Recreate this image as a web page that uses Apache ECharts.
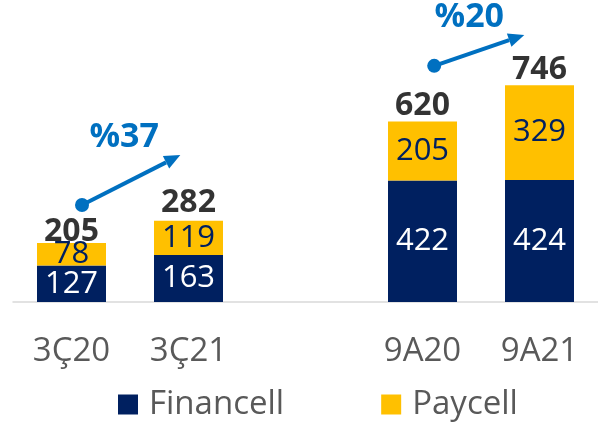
<!DOCTYPE html>
<html lang="tr">

<head>
    <meta charset="UTF-8">
    <script src="https://cdn.jsdelivr.net/npm/echarts@6/dist/echarts.min.js"></script>
    <title>Financell / Paycell</title>
    <style>
        html, body { margin: 0; padding: 0; background: #fff; }
        #myChart { width: 598px; height: 423px; }
    </style>
</head>

<body>
    <div id="myChart"></div>
    <script>
        // values (empty slot makes the gap between the two groups)
        var categories = ['3Ç20', '3Ç21', '', '9A20', '9A21'];
        var financell = [127, 163, null, 422, 424];
        var paycell = [78, 119, null, 205, 329];
        var totals = [205, 282, null, 620, 746];
        // growth arrows: [category index, value] for start/end, label position
        var growth = [
            { text: '%37', from: [0.09, 337], to: [0.93, 510], at: [0.45, 571] },
            { text: '%20', from: [3.10, 820], to: [3.87, 927], at: [3.40, 990] }
        ];

        var navy = '#002060';
        var gold = '#FFC000';
        var blue = '#0070C0';
        var font = 'Open Sans';

        var dom = document.getElementById('myChart');
        var myChart = echarts.init(dom);

        var option = {
            animation: false,
            grid: { left: 13, top: 14, width: 588.75, height: 288 },
            legend: {
                left: 118,
                top: 388,
                padding: 0,
                itemGap: 97,
                itemWidth: 20,
                itemHeight: 20,
                icon: 'rect',
                data: ['Financell', 'Paycell'],
                textStyle: { fontFamily: font, fontSize: 33, color: '#595959', padding: [0, 0, 0, 6] }
            },
            xAxis: {
                type: 'category',
                data: categories,
                axisTick: { show: false },
                axisLine: { lineStyle: { color: '#D9D9D9', width: 1.5 } },
                axisLabel: { fontFamily: font, fontSize: 33, color: '#595959', margin: 33 }
            },
            yAxis: {
                type: 'value',
                min: 0,
                max: 1000,
                show: false,
                splitLine: { show: false }
            },
            series: [{
                name: 'Financell',
                type: 'bar',
                stack: 'a',
                barWidth: 69,
                data: financell,
                itemStyle: { color: navy },
                label: { show: true, position: 'inside', fontFamily: font, fontSize: 31, color: '#fff' }
            }, {
                name: 'Paycell',
                type: 'bar',
                stack: 'a',
                data: paycell,
                itemStyle: { color: gold },
                label: { show: true, position: 'inside', fontFamily: font, fontSize: 31, color: navy }
            }, {
                name: 'total',
                type: 'scatter',
                symbolSize: 1,
                itemStyle: { color: 'rgba(0,0,0,0)' },
                data: totals.map(function (v, i) {
                    // first total sits lower, pushed down by the arrow
                    return i === 0 ? { value: v, label: { offset: [0, 6] } } : v;
                }),
                label: {
                    show: true,
                    position: 'top',
                    distance: 1,
                    fontFamily: font,
                    fontSize: 32,
                    fontWeight: 'bold',
                    color: '#000'
                }
            }]
        };
        myChart.setOption(option);

        function toPx(p) {
            var i = Math.floor(p[0]);
            var f = p[0] - i;
            var a = myChart.convertToPixel({ gridIndex: 0 }, [i, p[1]]);
            var b = myChart.convertToPixel({ gridIndex: 0 }, [i + 1, p[1]]);
            return [a[0] + (b[0] - a[0]) * f, a[1]];
        }

        var elements = [];
        growth.forEach(function (g) {
            var s = toPx(g.from);
            var e = toPx(g.to);
            var t = toPx(g.at);
            var ang = Math.atan2(e[1] - s[1], e[0] - s[0]);
            var len = 16, half = 7;
            var bx = e[0] - len * Math.cos(ang);
            var by = e[1] - len * Math.sin(ang);
            var nx = -Math.sin(ang), ny = Math.cos(ang);
            elements.push({
                type: 'line',
                shape: { x1: s[0], y1: s[1], x2: bx, y2: by },
                style: { stroke: blue, lineWidth: 4 }
            });
            elements.push({
                type: 'circle',
                shape: { cx: s[0], cy: s[1], r: 7 },
                style: { fill: blue }
            });
            elements.push({
                type: 'polygon',
                shape: { points: [[e[0], e[1]], [bx + nx * half, by + ny * half], [bx - nx * half, by - ny * half]] },
                style: { fill: blue }
            });
            elements.push({
                type: 'text',
                x: t[0],
                y: t[1],
                style: {
                    text: g.text,
                    fill: blue,
                    font: 'bold 34px "' + font + '"',
                    textAlign: 'center',
                    textVerticalAlign: 'middle'
                }
            });
        });
        myChart.setOption({ graphic: elements });
    </script>
</body>

</html>
